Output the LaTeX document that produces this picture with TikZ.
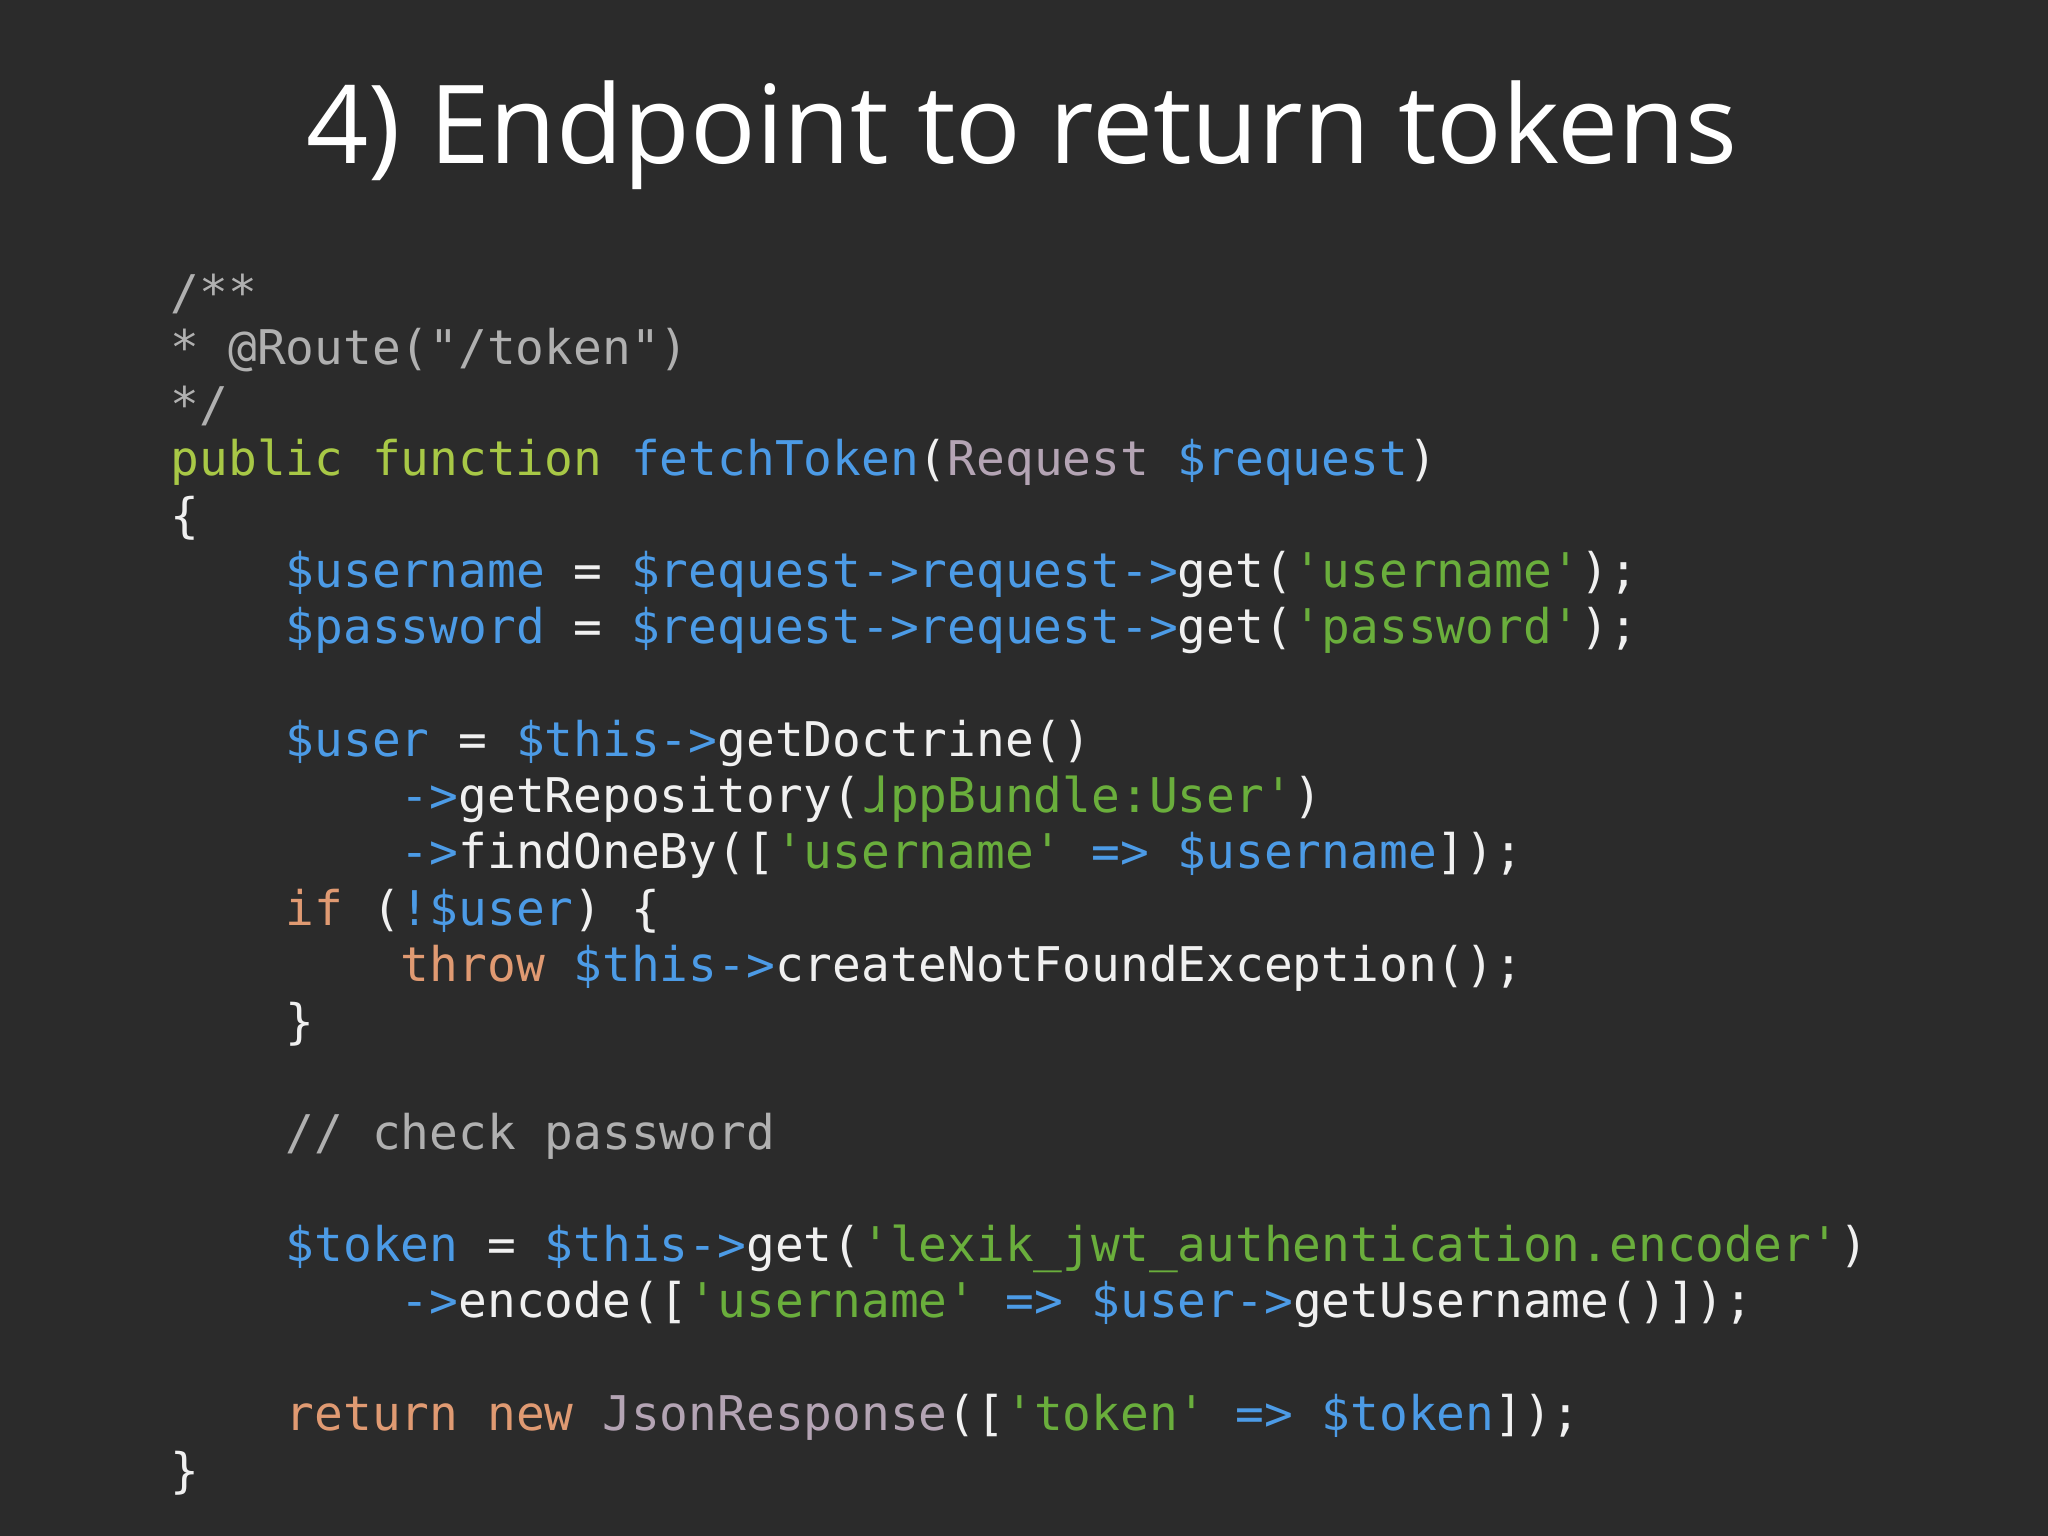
\documentclass[tikz,border=0pt]{standalone}
\usepackage{fontspec}
\setmainfont{Open Sans}
\setmonofont{DejaVu Sans Mono}[Ligatures={}]
\definecolor{bg}{HTML}{2B2B2B}
\definecolor{cwhite}{HTML}{F0F0F0}
\definecolor{cblue}{HTML}{4C9BE6}
\definecolor{ckey}{HTML}{A8C846}
\definecolor{cstr}{HTML}{6AAE3C}
\definecolor{cora}{HTML}{E09A72}
\definecolor{ctype}{HTML}{B4A4B4}
\definecolor{ccom}{HTML}{B0B0B0}
\newcommand\hlb[1]{\textcolor{cblue}{#1}}
\newcommand\hlk[1]{\textcolor{ckey}{#1}}
\newcommand\hls[1]{\textcolor{cstr}{#1}}
\newcommand\hlo[1]{\textcolor{cora}{#1}}
\newcommand\hlt[1]{\textcolor{ctype}{#1}}
\newcommand\hlc[1]{\textcolor{ccom}{#1}}
\newcommand\qq{\char"27}
\newcommand\dq{\char"22}
\newcommand\iA{\phantom{0000}}
\newcommand\iB{\phantom{00000000}}
\begin{document}
\begin{tikzpicture}[x=1cm,y=1cm,
  code/.style={anchor=west,inner sep=0pt,text=cwhite,font=\ttfamily\fontsize{13.6}{16}\selectfont}]
\fill[bg] (0,0) rectangle (20.48,15.36);
\useasboundingbox (0,0) rectangle (20.48,15.36);
\node[text=white,font=\fontsize{31}{36}\selectfont] (title) at (10.22,14.01) {4) Endpoint to return tokens};
\def\x{1.70}
\def\ya{12.42}
\def\dy{0.5616}
\node[code] (l1) at (\x,\ya) {\hlc{/**}};
\node[code] (l2) at (\x,\ya-1*\dy) {\hlc{ * @Route(\dq/token\dq)}};
\node[code] (l3) at (\x,\ya-2*\dy) {\hlc{ */}};
\node[code] (l4) at (\x,\ya-3*\dy) {\hlk{public function} \hlb{fetchToken}(\hlt{Request} \hlb{\$request})};
\node[code] (l5) at (\x,\ya-4*\dy) {\{};
\node[code] (l6) at (\x,\ya-5*\dy) {\iA\hlb{\$username} = \hlb{\$request->request->}get(\hls{\qq username\qq});};
\node[code] (l7) at (\x,\ya-6*\dy) {\iA\hlb{\$password} = \hlb{\$request->request->}get(\hls{\qq password\qq});};
\node[code] (l9) at (\x,\ya-8*\dy) {\iA\hlb{\$user} = \hlb{\$this->}getDoctrine()};
\node[code] (l10) at (\x,\ya-9*\dy) {\iB\hlb{->}getRepository(\hls{\qq AppBundle:User\qq})};
\node[code] (l11) at (\x,\ya-10*\dy) {\iB\hlb{->}findOneBy([\hls{\qq username\qq} \hlb{=> \$username}]);};
\node[code] (l12) at (\x,\ya-11*\dy) {\iA\hlo{if} (\hlb{!\$user}) \{};
\node[code] (l13) at (\x,\ya-12*\dy) {\iB\hlo{throw} \hlb{\$this->}createNotFoundException();};
\node[code] (l14) at (\x,\ya-13*\dy) {\iA\}};
\node[code] (l16) at (\x,\ya-15*\dy) {\iA\hlc{// check password}};
\node[code] (l18) at (\x,\ya-17*\dy) {\iA\hlb{\$token} = \hlb{\$this->}get(\hls{\qq lexik\_jwt\_authentication.encoder\qq})};
\node[code] (l19) at (\x,\ya-18*\dy) {\iB\hlb{->}encode([\hls{\qq username\qq} \hlb{=> \$user->}getUsername()]);};
\node[code] (l21) at (\x,\ya-20*\dy) {\iA\hlo{return new} \hlt{JsonResponse}([\hls{\qq token\qq} \hlb{=> \$token}]);};
\node[code] (l22) at (\x,\ya-21*\dy) {\}};
\end{tikzpicture}
\end{document}
